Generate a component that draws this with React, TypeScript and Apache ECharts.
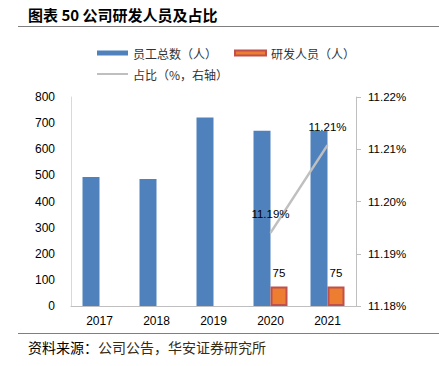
import React, { useEffect, useRef } from "react";
import * as echarts from "echarts";

const years = ["2017", "2018", "2019", "2020", "2021"];
const totalStaff = [494, 486, 722, 671, 670];
const rdStaff = [null, null, null, 75, 75];
const rdShare = [null, null, null, 11.194, 11.2108];
const rdShareLabels = ["", "", "", "11.19%", "11.21%"];

const CJK = '"Noto Sans CJK SC", "Noto Sans", sans-serif';
const NUM = '"Liberation Sans", Arial, sans-serif';

export default function App() {
  const ref = useRef<HTMLDivElement>(null);
  useEffect(() => {
    const chart = echarts.init(ref.current!, null, { renderer: "svg" });
    chart.setOption({
      animation: false,
      backgroundColor: "#ffffff",
      grid: { left: 71, right: 83, top: 97, bottom: 60 },
      legend: [
        {
          data: ["员工总数（人）", "研发人员（人）"],
          left: 92,
          top: 42,
          icon: "rect",
          itemWidth: 31,
          itemHeight: 5,
          itemGap: 17,
          textStyle: { fontFamily: CJK, fontSize: 12, color: "#333" },
        },
        {
          data: ["占比（%，右轴）"],
          left: 92,
          top: 63,
          icon: "rect",
          itemWidth: 31,
          itemHeight: 2,
          textStyle: { fontFamily: CJK, fontSize: 12, color: "#333" },
        },
      ],
      xAxis: {
        type: "category",
        data: years,
        axisLine: { lineStyle: { color: "#BFBFBF" } },
        axisTick: { show: false },
        axisLabel: { color: "#000", fontSize: 12, fontFamily: NUM, margin: 9 },
      },
      yAxis: [
        {
          type: "value",
          min: 0,
          max: 800,
          interval: 100,
          axisLine: { show: true, lineStyle: { color: "#D9D9D9" } },
          axisTick: { show: false },
          splitLine: { show: false },
          axisLabel: { color: "#000", fontSize: 12, fontFamily: NUM, margin: 16 },
        },
        {
          type: "value",
          min: 11.18,
          max: 11.22,
          interval: 0.01,
          position: "right",
          axisLine: { show: true, lineStyle: { color: "#BFBFBF" } },
          axisTick: { show: true, length: 5, lineStyle: { color: "#BFBFBF" } },
          splitLine: { show: false },
          axisLabel: {
            color: "#000",
            fontSize: 11.5,
            fontFamily: NUM,
            margin: 12,
            formatter: (v: number) => v.toFixed(2) + "%",
          },
        },
      ],
      series: [
        {
          name: "员工总数（人）",
          type: "bar",
          data: totalStaff,
          barWidth: 17,
          barGap: "0%",
          itemStyle: { color: "#4F81BD" },
        },
        {
          name: "研发人员（人）",
          type: "bar",
          data: rdStaff,
          barWidth: 17,
          barGap: "0%",
          itemStyle: { color: "#ED7D31", borderColor: "#C0504D", borderWidth: 2 },
          label: {
            show: true,
            position: "top",
            distance: 7,
            color: "#000",
            fontSize: 11.5,
            fontFamily: NUM,
          },
        },
        {
          name: "占比（%，右轴）",
          type: "line",
          yAxisIndex: 1,
          data: rdShare,
          symbol: "circle",
          symbolSize: 1,
          showSymbol: true,
          lineStyle: { color: "#BFBFBF", width: 2.5 },
          itemStyle: { color: "#BFBFBF" },
          label: {
            show: true,
            position: "top",
            distance: 12,
            color: "#000",
            fontSize: 11.5,
            fontFamily: NUM,
            formatter: (p: any) => rdShareLabels[p.dataIndex],
          },
        },
      ],
      graphic: [
        {
          type: "text",
          left: 28,
          top: 7,
          style: {
            text: "图表 50 公司研发人员及占比",
            font: `bold 15px ${CJK}`,
            fill: "#000",
          },
        },
        {
          type: "line",
          shape: { x1: 18, y1: 26.5, x2: 439, y2: 26.5 },
          style: { stroke: "#7F7F7F", lineWidth: 1 },
        },
        {
          type: "line",
          shape: { x1: 18, y1: 333.5, x2: 439, y2: 333.5 },
          style: { stroke: "#7F7F7F", lineWidth: 1 },
        },
        {
          type: "text",
          left: 28,
          top: 340,
          style: {
            text: "资料来源：",
            font: `14px ${CJK}`,
            fill: "#000",
          },
        },
        {
          type: "text",
          left: 98,
          top: 340,
          style: {
            text: "公司公告，华安证券研究所",
            font: `14px ${CJK}`,
            fill: "#3a2a10",
          },
        },
      ],
    });
    return () => chart.dispose();
  }, []);
  return <div ref={ref} style={{ width: 439, height: 366, position: "absolute", left: 0, top: 0 }} />;
}
